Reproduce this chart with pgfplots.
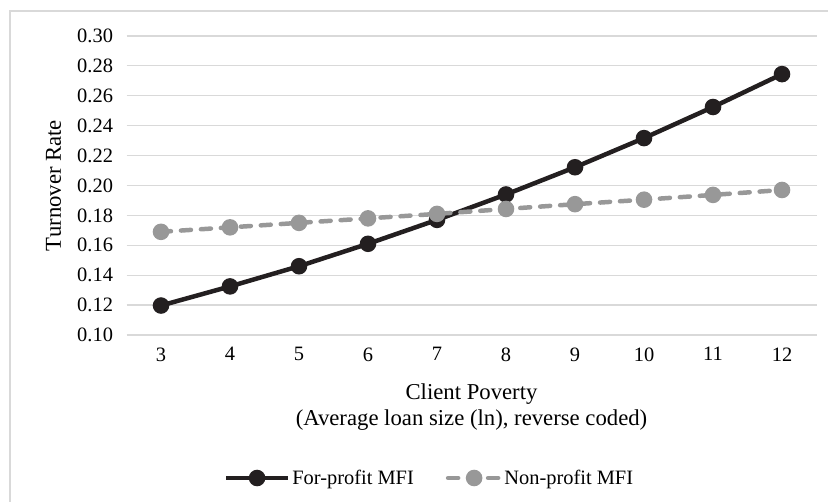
\documentclass[border=0pt]{standalone}
\usepackage{pgfplots}
\pgfplotsset{compat=1.18}
\usepackage{fontspec}
\setmainfont{Liberation Serif}
\definecolor{fpline}{HTML}{231F20}
\definecolor{npline}{HTML}{989898}
\definecolor{gridc}{HTML}{D9D9D9}
\definecolor{borderc}{HTML}{D9D9D9}
\newcommand{\chartfont}{\fontsize{20.5}{25}\selectfont}
\newcommand{\titlefont}{\fontsize{22.8}{25.5}\selectfont}
\begin{document}
\begin{tikzpicture}[x=1bp,y=1bp]
\useasboundingbox (0,0) rectangle (828,502);
\draw[borderc, line width=1.2bp] (10,0) -- (10,491) -- (828,491);
\begin{axis}[
  at={(126.5bp,167bp)}, anchor=south west,
  scale only axis, width=690bp, height=299bp,
  xmin=2.5, xmax=12.5, ymin=0.10, ymax=0.30,
  xtick={3,4,5,6,7,8,9,10,11,12},
  ytick={0.10,0.12,0.14,0.16,0.18,0.20,0.22,0.24,0.26,0.28,0.30},
  yticklabel style={/pgf/number format/fixed, /pgf/number format/fixed zerofill, /pgf/number format/precision=2},
  /pgf/number format/assume math mode=true,
  tick label style={font=\chartfont},
  yticklabel style={xshift=-10bp},
  xticklabel style={yshift=-9bp},
  major tick style={draw=none},
  axis line style={draw=none},
  ymajorgrids, grid style={gridc, line width=1.2bp},
  clip=false,
  xlabel={Client Poverty\\(Average loan size (ln), reverse coded)},
  xlabel style={font=\titlefont, align=center, inner sep=0pt, at={(axis description cs:0.5,-0.1639)}, anchor=north},
  ylabel={Turnover Rate},
  ylabel style={font=\titlefont, inner sep=0pt, at={(axis description cs:-0.1058,0.5)}, anchor=center, rotate=0},
  legend columns=2,
  legend style={at={(axis description cs:0.4391,-0.4783)}, anchor=center, draw=none, fill=none, font=\chartfont,
    /tikz/every even column/.append style={column sep=30bp},
    nodes={inner sep=2bp}},
]
\addplot[fpline, line width=4.5bp, mark=*, mark size=6bp, mark options={solid, fill=fpline, draw=fpline},
  legend image code/.code={\draw[mark repeat=2,mark phase=2] plot coordinates {(0bp,0bp) (31bp,0bp) (62bp,0bp)};}]
coordinates {(3,0.1197) (4,0.1325) (5,0.1460) (6,0.1610) (7,0.1770) (8,0.1940) (9,0.2122) (10,0.2317) (11,0.2525) (12,0.2745)};
\addlegendentry{For-profit MFI}
\addplot[npline, line width=4.5bp, line cap=round, dash pattern=on 10bp off 10bp, mark=*, mark size=6bp, mark options={solid, fill=npline, draw=npline},
  legend image code/.code={\draw[mark repeat=2,mark phase=2] plot coordinates {(2bp,0bp) (28bp,0bp) (54bp,0bp)};}]
coordinates {(3,0.1690) (4,0.1720) (5,0.1750) (6,0.1780) (7,0.1810) (8,0.1843) (9,0.1875) (10,0.1905) (11,0.1937) (12,0.1970)};
\addlegendentry{Non-profit MFI}
\end{axis}
\end{tikzpicture}
\end{document}
